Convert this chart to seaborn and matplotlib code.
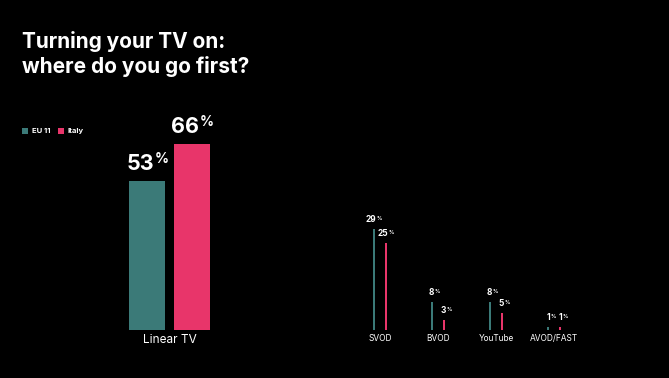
import matplotlib

matplotlib.use("Agg")
import matplotlib.pyplot as plt
import pandas as pd
import seaborn as sns
from matplotlib.patches import Rectangle

regions = ["EU 11", "Italy"]
main_category = ["Linear TV"]
main_eu = [53]
main_italy = [66]
other_categories = ["SVOD", "BVOD", "YouTube", "AVOD/FAST"]
other_eu = [29, 8, 8, 1]
other_italy = [25, 3, 5, 1]

TEAL = "#3B7A78"
PINK = "#E8356A"
BG = "#000000"
FONT = ["Inter", "DejaVu Sans"]

sns.set_theme(style="dark")
plt.rcParams["font.family"] = FONT


def to_frame(cats, eu, italy):
    rows = []
    for cat, a, b in zip(cats, eu, italy):
        rows.append({"category": cat, "region": regions[0], "value": a})
        rows.append({"category": cat, "region": regions[1], "value": b})
    return pd.DataFrame(rows)


def style_axis(ax, label_size):
    ax.set_facecolor(BG)
    for spine in ax.spines.values():
        spine.set_visible(False)
    ax.set_yticks([])
    ax.set_xlabel("")
    ax.set_ylabel("")
    ax.grid(False)
    ax.tick_params(axis="x", length=0, pad=3, colors="white", labelsize=label_size)
    if ax.get_legend() is not None:
        ax.get_legend().remove()


def label_bars(ax, big, small, pad, shift):
    for patch in ax.patches:
        h = patch.get_height()
        if h <= 0:
            continue
        x = patch.get_x() + patch.get_width() / 2
        ax.annotate(f"{h:.0f}", (x, h), xytext=(shift, pad), textcoords="offset points",
                    ha="right", va="bottom", color="white", fontsize=big, fontweight="bold")
        ax.annotate("%", (x, h), xytext=(shift + small * 0.03, pad + big * 0.36), textcoords="offset points",
                    ha="left", va="bottom", color="white", fontsize=small, fontweight="bold")


fig = plt.figure(figsize=(6.69, 3.78), dpi=100, facecolor=BG)
W, H = 669, 378
base_y = 330
top_y = 100

ax1 = fig.add_axes([119.5 / W, (H - base_y) / H, 100 / W, (base_y - top_y) / H])
sns.barplot(data=to_frame(main_category, main_eu, main_italy), x="category", y="value", hue="region",
            palette=[TEAL, PINK], width=0.9, gap=0.2, saturation=1, linewidth=0, ax=ax1)
ax1.set_ylim(0, (base_y - top_y) / 2.82)
ax1.set_xlim(-0.5, 0.5)
style_axis(ax1, 8.5)
label_bars(ax1, 15.5, 10, 5, 5)

ax2 = fig.add_axes([351 / W, (H - base_y) / H, 232 / W, (base_y - top_y) / H])
sns.barplot(data=to_frame(other_categories, other_eu, other_italy), x="category", y="value", hue="region",
            palette=[TEAL, PINK], width=0.414, gap=0.8, saturation=1, linewidth=0, ax=ax2)
ax2.set_ylim(0, (base_y - top_y) / 3.5)
ax2.set_xlim(-0.5, 3.5)
style_axis(ax2, 6)
label_bars(ax2, 6, 3.8, 3.5, 1.5)

fig.text(22 / W, 1 - 73 / H, "Turning your TV on:\nwhere do you go first?", color="white",
         fontsize=15, fontweight="bold", ha="left", va="baseline", linespacing=1.25)

# legend
for x0, color, name in [(22, TEAL, regions[0]), (58, PINK, regions[1])]:
    fig.patches.append(Rectangle((x0 / W, 1 - 134 / H), 6 / W, 6 / H, transform=fig.transFigure,
                                 facecolor=color, edgecolor="none"))
    fig.text((x0 + 10) / W, 1 - 131 / H, name, color="white", fontsize=5.5, fontweight="bold",
             ha="left", va="center")

fig.savefig("out.png", dpi=100, facecolor=BG)
